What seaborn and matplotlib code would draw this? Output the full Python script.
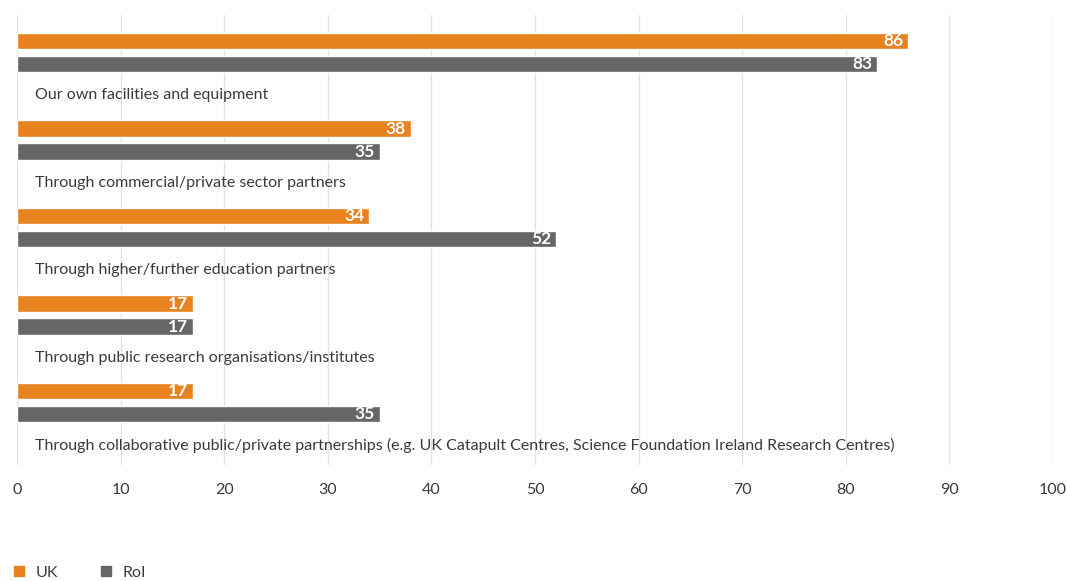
import matplotlib
matplotlib.use("Agg")
import matplotlib.pyplot as plt
from matplotlib.lines import Line2D
import seaborn as sns
import pandas as pd

categories = [
    "Our own facilities and equipment",
    "Through commercial/private sector partners",
    "Through higher/further education partners",
    "Through public research organisations/institutes",
    "Through collaborative public/private partnerships (e.g. UK Catapult Centres, Science Foundation Ireland Research Centres)",
]
uk = [86, 38, 34, 17, 17]
roi = [83, 35, 52, 17, 35]
regions = ["UK", "RoI"]
x_ticks = [0, 10, 20, 30, 40, 50, 60, 70, 80, 90, 100]

ORANGE = "#E8821F"
GREY = "#666666"
TEXT = "#3a3a3a"

sns.set_theme(style="white")
plt.rcParams["font.family"] = ["Lato", "DejaVu Sans"]

df = pd.DataFrame({
    "category": categories * 2,
    "value": uk + roi,
    "region": ["UK"] * len(categories) + ["RoI"] * len(categories),
})

fig = plt.figure(figsize=(10.67, 5.81), dpi=100)
W, H = 1067, 581
ax = fig.add_axes([17 / W, 1 - 465 / H, (1053 - 17) / W, (465 - 15) / H])

sns.barplot(data=df, x="value", y="category", hue="region", hue_order=regions,
            order=categories, orient="h", palette=[ORANGE, GREY],
            width=0.526, gap=0.28, saturation=1, legend=False, ax=ax)

# value labels inside the bar ends
for cont in ax.containers:
    labels = ax.bar_label(cont, fmt="%d", padding=-3.5, color="white",
                          fontsize=12.5, fontweight="bold")
    for t in labels:
        t.set_ha("right")

# category captions beneath each pair of bars
for i, cat in enumerate(categories):
    ax.text(1.74, i + 0.486, cat, ha="left", va="center", fontsize=11.5,
            color=TEXT)

ax.set_xlim(0, 100)
ax.set_ylim(4.714, -0.4286)
ax.set_xticks(x_ticks)
ax.set_xticklabels([str(v) for v in x_ticks], fontsize=11.5, color=TEXT)
ax.set_yticks([])
ax.set_xlabel("")
ax.set_ylabel("")
ax.tick_params(axis="x", length=0, pad=13)
ax.xaxis.grid(True, color="#e2e2e2", linewidth=1)
ax.set_axisbelow(True)
for s in ax.spines.values():
    s.set_visible(False)

handles = [Line2D([], [], marker="s", linestyle="", color=c, markersize=6.5)
           for c in (ORANGE, GREY)]
fig.legend(handles, regions, loc="lower left", bbox_to_anchor=(0.007, -0.009),
           ncol=2, frameon=False, handletextpad=0.75,
           columnspacing=2.7, handlelength=0.6, borderaxespad=0.0,
           labelcolor=TEXT, prop={"size": 11.5})

fig.savefig("out.png", dpi=100)
